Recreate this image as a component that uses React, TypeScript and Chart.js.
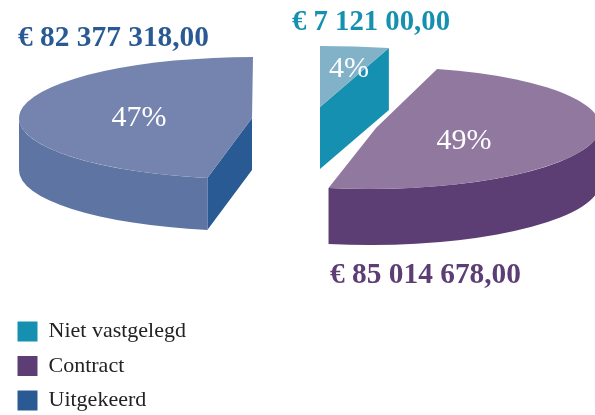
import React, { useEffect, useRef } from "react";
import { Chart, registerables } from "chart.js";

Chart.register(...registerables);

const categories = ["Niet vastgelegd", "Contract", "Uitgekeerd"];
const shares = [4, 49, 47];
const amountLabels = ["€ 7 121 00,00", "€ 85 014 678,00", "€ 82 377 318,00"];
const sideColors = ["#1590B0", "#5C3E74", "#2A5A93"];
const topColors = ["#82B2C8", "#91789F", "#7484AE"];
const rimColors = ["#1590B0", "#5C3E74", "#5E74A3"];

// Per-slice projection of the unit pie onto the page (apex, radii, skew, extrusion)
const projections = [
  { ax: 320, ay: 107, rx: 277, ry: 61, skew: 0, depth: 62 },
  { ax: 376, ay: 128, rx: 224, ry: 61, skew: -5.6, depth: 56 },
  { ax: 252, ay: 118, rx: 233, ry: 61, skew: -1, depth: 52 },
];
const percentPos = [
  { x: 349, y: 69, size: 30 },
  { x: 464, y: 141, size: 30 },
  { x: 139, y: 118, size: 30 },
];
const amountPos = [
  { x: 292, y: 30, w: 158 },
  { x: 330, y: 283, w: 191 },
  { x: 18, y: 46, w: 191 },
];

const FONT = '"Liberation Serif", serif';

const piePlugin = {
  id: "pie3d",
  beforeDatasetDraw(chart: any) {
    const ctx: CanvasRenderingContext2D = chart.ctx;
    const meta = chart.getDatasetMeta(0);

    const arcPath = (p: any, from: number, to: number, dy: number, ccw = false) => {
      ctx.save();
      ctx.transform(p.rx, 0, p.skew, p.ry, p.ax, p.ay + dy);
      ctx.arc(0, 0, 1, from, to, ccw);
      ctx.restore();
    };
    const radial = (p: any, a: number) => {
      const c = Math.cos(a), s = Math.sin(a);
      return { x: p.ax + p.rx * c + p.skew * s, y: p.ay + p.ry * s };
    };

    meta.data.forEach((arc: any, i: number) => {
      const p = projections[i];
      const { startAngle: a0, endAngle: a1 } = arc;

      // visible radial wall
      const wallAngle = i === 0 ? a1 : i === 2 ? a0 : null;
      if (wallAngle !== null) {
        const e = radial(p, wallAngle);
        ctx.beginPath();
        ctx.moveTo(p.ax, p.ay);
        ctx.lineTo(e.x, e.y);
        ctx.lineTo(e.x, e.y + p.depth);
        ctx.lineTo(p.ax, p.ay + p.depth);
        ctx.closePath();
        ctx.fillStyle = sideColors[i];
        ctx.fill();
      }

      // outer rim wall (front half only)
      const r0 = Math.max(a0, 0);
      const r1 = Math.min(a1, Math.PI);
      if (r1 > r0) {
        ctx.beginPath();
        arcPath(p, r0, r1, 0);
        arcPath(p, r1, r0, p.depth, true);
        ctx.closePath();
        ctx.fillStyle = rimColors[i];
        ctx.fill();
      }

      // top face
      ctx.beginPath();
      ctx.moveTo(p.ax, p.ay);
      arcPath(p, a0, a1, 0);
      ctx.closePath();
      ctx.fillStyle = topColors[i];
      ctx.fill();
    });

    // texts
    ctx.textBaseline = "middle";
    ctx.textAlign = "center";
    ctx.fillStyle = "#ffffff";
    shares.forEach((v, i) => {
      const t = percentPos[i];
      ctx.font = `${t.size}px ${FONT}`;
      ctx.fillText(`${v}%`, t.x, t.y);
    });
    ctx.textBaseline = "alphabetic";
    ctx.textAlign = "left";
    amountLabels.forEach((s, i) => {
      const t = amountPos[i];
      ctx.font = `bold 29.5px ${FONT}`;
      ctx.fillStyle = sideColors[i];
      ctx.fillText(s, t.x, t.y, t.w);
    });
    return false;
  },
};

export default function App() {
  const ref = useRef<HTMLCanvasElement>(null);
  useEffect(() => {
    const chart = new Chart(ref.current!, {
      type: "pie",
      data: {
        labels: categories,
        datasets: [{ data: shares, backgroundColor: sideColors, borderWidth: 0 }],
      },
      options: {
        animation: false,
        responsive: false,
        layout: { padding: { left: 5, bottom: -9 } },
        plugins: {
          tooltip: { enabled: false },
          legend: {
            position: "left",
            align: "end",
            labels: {
              boxWidth: 20,
              boxHeight: 20,
              padding: 12.5,
              color: "#222222",
              font: { family: "Liberation Serif", size: 22 },
            },
          },
        },
      },
      plugins: [piePlugin],
    } as any);
    return () => chart.destroy();
  }, []);
  return (
    <div style={{ position: "fixed", left: 0, top: 0, width: 595, height: 415 }}>
      <canvas ref={ref} width={595} height={415} style={{ display: "block" }} />
    </div>
  );
}
